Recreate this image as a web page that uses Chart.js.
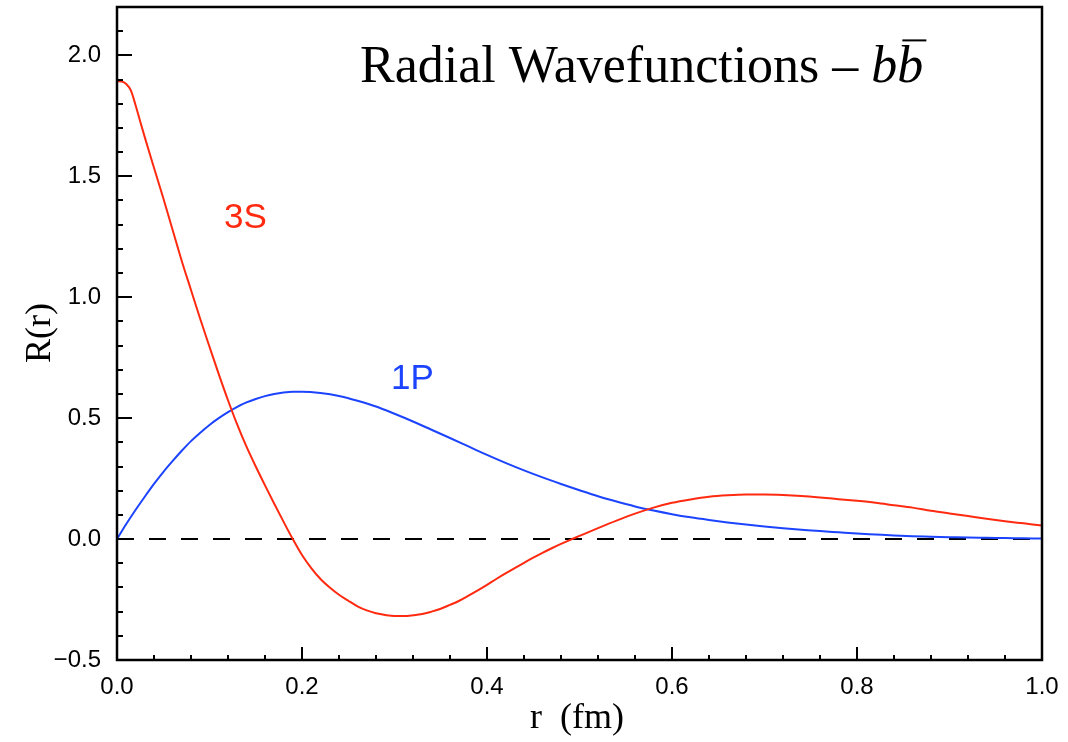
<!DOCTYPE html>
<html>
<head>
<meta charset="utf-8">
<script src="https://cdn.jsdelivr.net/npm/chart.js@4.4.1/dist/chart.umd.min.js"></script>
<style>
  html, body { margin: 0; padding: 0; background: #ffffff; }
  #wrap { width: 1068px; height: 742px; }
</style>
</head>
<body>
<div id="wrap"><canvas id="chart" width="1068" height="742"></canvas></div>
<script>
// Radial wavefunctions of the b-bbar system, R(r) against r in fm
const r3S = [0, 0.005, 0.01, 0.015, 0.02, 0.025, 0.03, 0.04, 0.05, 0.06, 0.07, 0.08, 0.09, 0.10, 0.11, 0.12, 0.13, 0.14, 0.15, 0.16, 0.17, 0.18, 0.19, 0.20, 0.21, 0.22, 0.23, 0.24, 0.25, 0.26, 0.27, 0.28, 0.29, 0.30, 0.31, 0.32, 0.33, 0.34, 0.35, 0.36, 0.37, 0.38, 0.39, 0.40, 0.41, 0.42, 0.43, 0.44, 0.45, 0.46, 0.47, 0.48, 0.49, 0.50, 0.52, 0.54, 0.56, 0.58, 0.60, 0.62, 0.64, 0.66, 0.68, 0.70, 0.72, 0.74, 0.76, 0.78, 0.80, 0.82, 0.84, 0.86, 0.88, 0.90, 0.92, 0.94, 0.96, 0.98, 1.00];
const R3S = [1.893, 1.892, 1.882, 1.855, 1.795, 1.728, 1.662, 1.535, 1.41, 1.28, 1.15, 1.03, 0.91, 0.795, 0.682, 0.574, 0.473, 0.382, 0.30, 0.222, 0.146, 0.072, 0.0, -0.066, -0.12, -0.165, -0.2, -0.23, -0.255, -0.278, -0.295, -0.307, -0.314, -0.318, -0.318, -0.315, -0.31, -0.30, -0.288, -0.272, -0.255, -0.234, -0.212, -0.189, -0.165, -0.142, -0.12, -0.098, -0.077, -0.057, -0.038, -0.02, -0.003, 0.013, 0.045, 0.076, 0.105, 0.13, 0.15, 0.164, 0.175, 0.181, 0.184, 0.184, 0.182, 0.178, 0.172, 0.165, 0.158, 0.15, 0.14, 0.13, 0.117, 0.106, 0.095, 0.084, 0.074, 0.065, 0.056];

const r1P = [0, 0.01, 0.02, 0.03, 0.04, 0.05, 0.06, 0.07, 0.08, 0.09, 0.10, 0.11, 0.12, 0.13, 0.14, 0.15, 0.16, 0.17, 0.18, 0.19, 0.20, 0.22, 0.24, 0.26, 0.28, 0.30, 0.32, 0.34, 0.36, 0.38, 0.40, 0.42, 0.44, 0.46, 0.48, 0.50, 0.52, 0.54, 0.56, 0.58, 0.60, 0.62, 0.64, 0.66, 0.68, 0.70, 0.72, 0.74, 0.76, 0.78, 0.80, 0.82, 0.84, 0.86, 0.88, 0.90, 0.92, 0.94, 0.96, 0.98, 1.00];
const R1P = [0, 0.062, 0.12, 0.175, 0.228, 0.277, 0.322, 0.365, 0.405, 0.44, 0.472, 0.50, 0.525, 0.547, 0.565, 0.579, 0.591, 0.60, 0.606, 0.609, 0.609, 0.604, 0.592, 0.572, 0.548, 0.518, 0.486, 0.452, 0.418, 0.383, 0.348, 0.315, 0.284, 0.255, 0.228, 0.202, 0.177, 0.155, 0.135, 0.118, 0.103, 0.09, 0.079, 0.069, 0.06, 0.052, 0.045, 0.039, 0.033, 0.028, 0.023, 0.019, 0.015, 0.012, 0.01, 0.008, 0.006, 0.005, 0.004, 0.003, 0.002];

const rZero = [0, 1];
const RZero = [0, 0];

const xMajorTicks = [0, 0.2, 0.4, 0.6, 0.8, 1.0];
const yMajorTicks = [-0.5, 0, 0.5, 1.0, 1.5, 2.0];
const xMinorStep = 0.04;
const yMinorStep = 0.1;

const RED = '#ff2a10';
const BLUE = '#1c44ff';

const toPoints = (xs, ys) => xs.map((x, i) => ({ x: x, y: ys[i] }));

const fmt = v => {
  const s = Math.abs(v).toFixed(1);
  return v < 0 ? '\u2212' + s : s;
};

// frame, inward ticks, title, axis titles and curve labels
const decorations = {
  id: 'decorations',
  afterDatasetsDraw(chart) {
    const ctx = chart.ctx;
    const a = chart.chartArea;
    const xs = chart.scales.x, ys = chart.scales.y;
    ctx.save();
    ctx.strokeStyle = '#000';
    ctx.lineCap = 'butt';

    // ticks on the left and bottom edges, pointing inward
    ctx.lineWidth = 2;
    ctx.beginPath();
    for (let k = 0; k <= Math.round((ys.max - ys.min) / yMinorStep); k++) {
      const v = +(ys.min + k * yMinorStep).toFixed(3);
      const py = Math.round(ys.getPixelForValue(v));
      const major = yMajorTicks.some(t => Math.abs(t - v) < 1e-6);
      ctx.moveTo(a.left, py);
      ctx.lineTo(a.left + (major ? 15 : 6), py);
    }
    for (let k = 0; k <= Math.round((xs.max - xs.min) / xMinorStep); k++) {
      const v = +(xs.min + k * xMinorStep).toFixed(3);
      const px = Math.round(xs.getPixelForValue(v));
      const major = xMajorTicks.some(t => Math.abs(t - v) < 1e-6);
      ctx.moveTo(px, a.bottom);
      ctx.lineTo(px, a.bottom - (major ? 13 : 5));
    }
    ctx.stroke();

    // frame
    ctx.lineWidth = 2.5;
    ctx.strokeRect(a.left, a.top, a.right - a.left, a.bottom - a.top);

    // title
    const size = 52;
    let x = 360;
    const base = 82;
    ctx.fillStyle = '#000';
    ctx.textBaseline = 'alphabetic';
    ctx.textAlign = 'left';
    ctx.font = size + 'px "Liberation Serif"';
    const t1 = 'Radial Wavefunctions \u2013 ';
    ctx.fillText(t1, x, base);
    x += ctx.measureText(t1).width;
    ctx.font = 'italic ' + size + 'px "Liberation Serif"';
    ctx.fillText('b', x, base);
    x += ctx.measureText('b').width;
    ctx.fillText('b', x, base);
    const bw = ctx.measureText('b').width;
    ctx.lineWidth = 2;
    ctx.beginPath();
    ctx.moveTo(x + 5, base - size * 0.8);
    ctx.lineTo(x + bw + 3, base - size * 0.8);
    ctx.stroke();

    // axis titles
    ctx.font = '36px "Liberation Serif"';
    ctx.textAlign = 'center';
    ctx.fillText('r  (fm)', 577, 728);
    ctx.save();
    ctx.translate(50, 333);
    ctx.rotate(-Math.PI / 2);
    ctx.fillText('R(r)', 0, 0);
    ctx.restore();

    // curve labels
    ctx.textAlign = 'left';
    ctx.font = '35px "Liberation Sans"';
    ctx.fillStyle = RED;
    ctx.fillText('3S', 224, 228);
    ctx.fillStyle = BLUE;
    ctx.fillText('1P', 391, 389);
    ctx.restore();
  }
};

new Chart(document.getElementById('chart'), {
  type: 'line',
  data: {
    datasets: [
      {
        label: '3S',
        data: toPoints(r3S, R3S),
        borderColor: RED,
        borderWidth: 2,
        pointRadius: 0,
        cubicInterpolationMode: 'monotone',
        order: 1
      },
      {
        label: '1P',
        data: toPoints(r1P, R1P),
        borderColor: BLUE,
        borderWidth: 2,
        pointRadius: 0,
        cubicInterpolationMode: 'monotone',
        order: 2
      },
      {
        label: 'zero',
        data: toPoints(rZero, RZero),
        borderColor: '#000',
        borderWidth: 2,
        borderDash: [17, 15],
        pointRadius: 0,
        order: 3
      }
    ]
  },
  options: {
    responsive: false,
    animation: false,
    layout: { padding: { top: 7, right: 26, left: 0, bottom: 0 } },
    plugins: { legend: { display: false }, tooltip: { enabled: false } },
    scales: {
      x: {
        type: 'linear',
        min: 0,
        max: 1,
        afterFit: s => { s.height = 82; s.paddingLeft = 0; s.paddingRight = 0; },
        afterBuildTicks: s => { s.ticks = xMajorTicks.map(v => ({ value: v })); },
        grid: { display: false, drawTicks: false },
        border: { display: false },
        ticks: {
          padding: 13,
          color: '#000',
          font: { family: '"Liberation Sans"', size: 24 },
          maxRotation: 0,
          callback: v => fmt(v)
        }
      },
      y: {
        type: 'linear',
        min: -0.5,
        max: 2.2,
        afterFit: s => { s.width = 117; s.paddingTop = 0; s.paddingBottom = 0; },
        afterBuildTicks: s => { s.ticks = yMajorTicks.map(v => ({ value: v })); },
        grid: { display: false, drawTicks: false },
        border: { display: false },
        ticks: {
          padding: 16,
          color: '#000',
          font: { family: '"Liberation Sans"', size: 24 },
          callback: v => fmt(v)
        }
      }
    }
  },
  plugins: [decorations]
});
</script>
</body>
</html>
